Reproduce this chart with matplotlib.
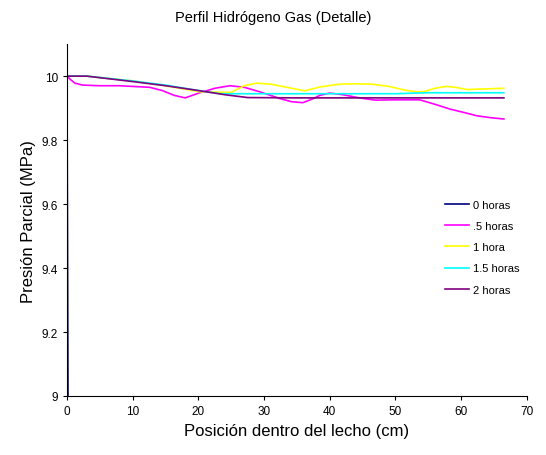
import matplotlib.pyplot as plt

plt.rcParams['font.family'] = ['Liberation Sans', 'DejaVu Sans']

# Datos (posición en cm, presión en MPa)
x_0h = [0, 0.15, 0.3]
p_0h = [10.0, 9.0, 8.5]

x_05h = [0, 0.5, 1.2, 2.4, 5, 8, 12.6, 14.5, 16.3, 18, 20.2, 22.5, 24.8, 27, 29.5, 32.4, 34.2, 35.9,
         37.3, 38.5, 40, 42, 44.5, 46.9, 50, 53.7, 56, 58.3, 60.5, 62.4, 64.5, 66.5]
p_05h = [10.0, 9.99, 9.978, 9.972, 9.97, 9.97, 9.965, 9.955, 9.94, 9.932, 9.948, 9.962, 9.97, 9.965,
         9.95, 9.93, 9.92, 9.917, 9.928, 9.94, 9.947, 9.942, 9.932, 9.925, 9.926, 9.926, 9.912,
         9.897, 9.886, 9.876, 9.87, 9.866]

x_1h = [0, 3, 10, 15, 20.2, 25, 27, 28.9, 31, 33.5, 36.2, 38.5, 41.5, 44, 46.4, 49, 51.5, 53.3, 54.5,
        56, 57.8, 59.5, 60.9, 63.5, 66.5]
p_1h = [10.0, 10.0, 9.985, 9.97, 9.951, 9.949, 9.97, 9.978, 9.975, 9.965, 9.954, 9.966, 9.975,
        9.976, 9.975, 9.968, 9.956, 9.951, 9.952, 9.962, 9.968, 9.964, 9.958, 9.96, 9.962]

x_15h = [0, 3, 10, 15, 20, 23.3, 30, 40, 50, 54.8, 60, 66.5]
p_15h = [10.0, 10.0, 9.985, 9.972, 9.955, 9.945, 9.945, 9.945, 9.945, 9.948, 9.948, 9.948]

x_2h = [0, 3, 10, 15, 20, 24, 27.5, 35, 45, 55, 66.5]
p_2h = [10.0, 10.0, 9.983, 9.97, 9.955, 9.942, 9.933, 9.932, 9.932, 9.932, 9.932]

series_labels = ['0 horas', '.5 horas', '1 hora', '1.5 horas', '2 horas']

fig = plt.figure(figsize=(5.46, 4.56), dpi=100)
ax = fig.add_axes([0.1227, 0.1294, 0.8423, 0.7716])

ax.plot(x_0h, p_0h, color='#000080', lw=1.2, label=series_labels[0])
ax.plot(x_05h, p_05h, color='#FF00FF', lw=1.2, label=series_labels[1])
ax.plot(x_1h, p_1h, color='#FFFF00', lw=1.2, label=series_labels[2])
ax.plot(x_15h, p_15h, color='#00FFFF', lw=1.2, label=series_labels[3])
ax.plot(x_2h, p_2h, color='#800080', lw=1.2, label=series_labels[4])

ax.set_xlim(0, 70)
ax.set_ylim(9, 10.1)
ax.set_xticks(range(0, 71, 10))
ax.set_yticks([9, 9.2, 9.4, 9.6, 9.8, 10])
ax.set_yticklabels(['9', '9.2', '9.4', '9.6', '9.8', '10'])
ax.tick_params(labelsize=8.5, length=3, width=0.8, direction='out')

for s in ['top', 'right']:
    ax.spines[s].set_visible(False)

ax.set_xlabel('Posición dentro del lecho (cm)', fontsize=12)
ax.set_ylabel('Presión Parcial (MPa)', fontsize=12)
fig.suptitle('Perfil Hidrógeno Gas (Detalle)', fontsize=10.5, y=0.975)

ax.legend(loc='upper left', bbox_to_anchor=(0.8, 0.585), frameon=False, fontsize=8,
          handlelength=2.2, handletextpad=0.3, labelspacing=1.0)

plt.savefig('out.png', dpi=100)
